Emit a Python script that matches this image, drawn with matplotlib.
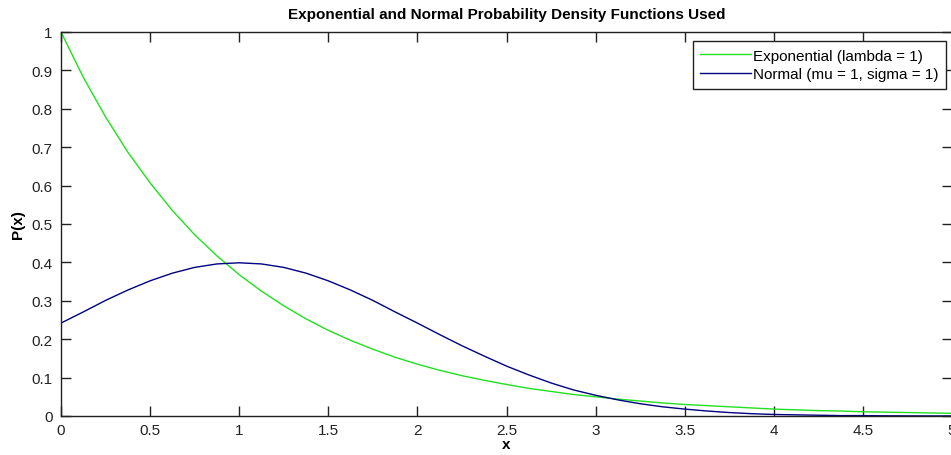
import matplotlib
matplotlib.use('Agg')
import matplotlib.pyplot as plt

# values, step 0.125 in x
x_vals = [i * 0.125 for i in range(41)]
exp_vals = [1.000, 0.882, 0.779, 0.687, 0.607, 0.535, 0.472, 0.417, 0.368, 0.325,
            0.287, 0.253, 0.223, 0.197, 0.174, 0.153, 0.135, 0.119, 0.105, 0.093,
            0.082, 0.072, 0.064, 0.056, 0.050, 0.044, 0.039, 0.034, 0.030, 0.027,
            0.024, 0.021, 0.018, 0.016, 0.014, 0.013, 0.011, 0.010, 0.009, 0.008,
            0.007]
norm_vals = [0.242, 0.271, 0.301, 0.328, 0.352, 0.372, 0.387, 0.396, 0.399, 0.396,
             0.387, 0.372, 0.352, 0.328, 0.301, 0.271, 0.242, 0.212, 0.183, 0.156,
             0.130, 0.107, 0.086, 0.068, 0.054, 0.042, 0.032, 0.024, 0.018, 0.013,
             0.009, 0.006, 0.004, 0.003, 0.002, 0.001, 0.001, 0.0005, 0.0003, 0.0002,
             0.0001]
x_ticks = [0, 0.5, 1, 1.5, 2, 2.5, 3, 3.5, 4, 4.5, 5]
x_tick_labels = ['0', '0.5', '1', '1.5', '2', '2.5', '3', '3.5', '4', '4.5', '5']
y_ticks = [0, 0.1, 0.2, 0.3, 0.4, 0.5, 0.6, 0.7, 0.8, 0.9, 1]
y_tick_labels = ['0', '0.1', '0.2', '0.3', '0.4', '0.5', '0.6', '0.7', '0.8', '0.9', '1']

plt.rcParams['font.family'] = ['Liberation Sans', 'DejaVu Sans']

W, H = 951, 456
fig = plt.figure(figsize=(W / 100, H / 100), dpi=100)
ax = fig.add_axes([61 / W, 1 - 417 / H, 891 / W, (417 - 33) / H])

ax.plot(x_vals, exp_vals, color='#20e020', linewidth=1.0, label='Exponential (lambda = 1)')
ax.plot(x_vals, norm_vals, color='#000080', linewidth=1.0, label='Normal (mu = 1, sigma = 1)')

ax.set_xlim(0, 5)
ax.set_ylim(0, 1)
ax.set_xticks(x_ticks)
ax.set_xticklabels(x_tick_labels)
ax.set_yticks(y_ticks)
ax.set_yticklabels(y_tick_labels)
ax.tick_params(direction='in', length=7, width=1, top=True, right=True,
               labelsize=11, colors='#222222', pad=5)
ax.tick_params(axis='y', pad=6)
for s in ax.spines.values():
    s.set_linewidth(1.0)
    s.set_color('#222222')

ax.set_title('Exponential and Normal Probability Density Functions Used',
             fontsize=11, fontweight='bold', pad=10)
ax.set_xlabel('x', fontsize=11, fontweight='bold', labelpad=0)
ax.set_ylabel('P(x)', fontsize=11, fontweight='bold', labelpad=5)

leg = ax.legend(loc='upper right', bbox_to_anchor=(946 / W, 1 - 42 / H),
                bbox_transform=fig.transFigure, fontsize=11, fancybox=False,
                framealpha=1, borderpad=0.5, handlelength=3.3, handletextpad=0.15,
                labelspacing=0.3, borderaxespad=0)
leg.get_frame().set_edgecolor('#222222')
leg.get_frame().set_linewidth(1.0)

fig.savefig('out.png', dpi=100)
